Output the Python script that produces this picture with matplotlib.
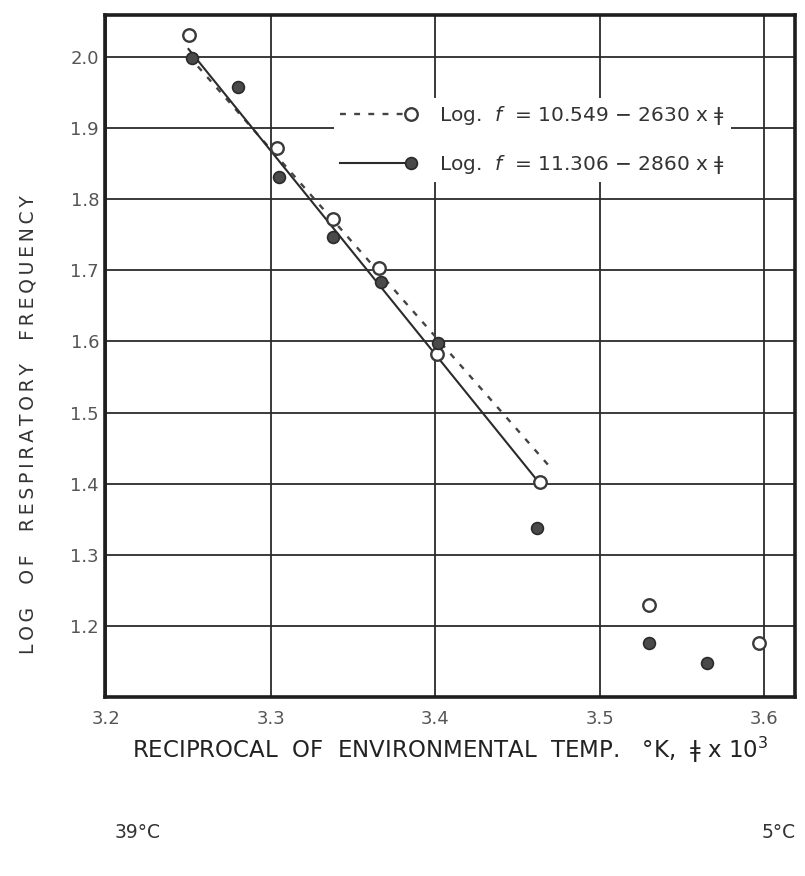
import matplotlib
matplotlib.use("Agg")
import matplotlib.pyplot as plt
import numpy as np
from matplotlib.lines import Line2D
from matplotlib.legend_handler import HandlerLine2D

# ---- data ----
open_x = [3.250, 3.304, 3.338, 3.366, 3.401, 3.464, 3.530, 3.597]
open_y = [2.031, 1.872, 1.772, 1.703, 1.582, 1.403, 1.230, 1.176]
fill_x = [3.252, 3.280, 3.305, 3.338, 3.367, 3.402, 3.462, 3.530, 3.565]
fill_y = [1.998, 1.958, 1.831, 1.747, 1.683, 1.598, 1.337, 1.176, 1.148]

# fitted lines: log f = a - b * x
dash_a, dash_b = 10.549, 2.630
solid_a, solid_b = 11.306, 2.860
dash_range = [3.250, 3.470]
solid_range = [3.250, 3.463]

xticks = [3.2, 3.3, 3.4, 3.5, 3.6]
xticklabels = ["3.2", "3.3", "3.4", "3.5", "3.6"]
yticks = [1.2, 1.3, 1.4, 1.5, 1.6, 1.7, 1.8, 1.9, 2.0]
yticklabels = ["1.2", "1.3", "1.4", "1.5", "1.6", "1.7", "1.8", "1.9", "2.0"]

legend_labels = ["Log.  $f$  = 10.549 − 2630 x ǂ", "Log.  $f$  = 11.306 − 2860 x ǂ"]
xlabel = "RECIPROCAL  OF  ENVIRONMENTAL  TEMP.   °K,  ǂ x 10$^3$"
ylabel = "LOG  OF  RESPIRATORY  FREQUENCY"
left_note, right_note = "39°C", "5°C"

plt.rcParams['font.family'] = ['DejaVu Sans']


def spaced(s):
    return "\u2009".join(s)


fig = plt.figure(figsize=(8.05, 8.76), dpi=100)
ax = fig.add_axes([0.130, 0.2043, 0.858, 0.7787])

ink = "#2b2b2b"
ax.set_xlim(3.199, 3.619)
ax.set_ylim(1.100, 2.059)
ax.set_xticks(xticks)
ax.set_xticklabels(xticklabels)
ax.set_yticks(yticks)
ax.set_yticklabels(yticklabels)
ax.grid(True, color=ink, lw=1.3)
ax.set_axisbelow(True)
ax.tick_params(length=0, labelsize=13, labelcolor="#555555")
ax.tick_params(axis="y", pad=4)
ax.tick_params(axis="x", pad=9)
for s in ax.spines.values():
    s.set_linewidth(2.6)
    s.set_color("#1e1e1e")

xd = np.array(dash_range)
xs = np.array(solid_range)
ax.plot(xd, dash_a - dash_b * xd, ls=(0, (2.5, 3.5)), color="#444444", lw=1.7, zorder=3)
ax.plot(xs, solid_a - solid_b * xs, ls="-", color=ink, lw=1.5, zorder=3)

ax.plot(open_x, open_y, 'o', ms=9, mfc="white", mec="#3a3a3a", mew=1.7, ls="none", zorder=4)
ax.plot(fill_x, fill_y, 'o', ms=8.5, mfc="#4a4a4a", mec="#2a2a2a", mew=1.2, ls="none", zorder=5)


class EndMarkerHandler(HandlerLine2D):
    def create_artists(self, legend, orig_handle, xdescent, ydescent, width,
                       height, fontsize, trans):
        ydata = np.full(2, (height - ydescent) / 2.0)
        xdata = np.array([-xdescent, -xdescent + width])
        line = Line2D(xdata, ydata)
        self.update_prop(line, orig_handle, legend)
        line.set_marker("None")
        mark = Line2D(xdata[-1:], ydata[-1:])
        self.update_prop(mark, orig_handle, legend)
        mark.set_linestyle("None")
        line.set_transform(trans)
        mark.set_transform(trans)
        return [line, mark]


h1 = Line2D([], [], ls=(0, (2.5, 3.5)), color="#444444", lw=1.7, marker='o', ms=9,
            mfc="white", mec="#3a3a3a", mew=1.7)
h2 = Line2D([], [], ls="-", color=ink, lw=1.5, marker='o', ms=8.5,
            mfc="#4a4a4a", mec="#2a2a2a", mew=1.2)
leg = ax.legend([h1, h2], legend_labels, loc="center left", bbox_to_anchor=(0.318, 0.817),
                frameon=True, facecolor="white", edgecolor="none", framealpha=1,
                handlelength=3.5, handletextpad=1.4, labelspacing=1.3, fontsize=14.5,
                borderpad=0.3,
                handler_map={h1: EndMarkerHandler(), h2: EndMarkerHandler()})
for t in leg.get_texts():
    t.set_color("#333333")

ax.set_xlabel(xlabel, fontsize=16.5, color="#222222", labelpad=5)
ax.set_ylabel(spaced(ylabel), fontsize=13.5, color="#333333")
ax.yaxis.set_label_coords(-0.097, 0.40)

fig.text(0.142, 0.050, left_note, fontsize=13.5, color="#333333", ha="left", va="center")
fig.text(0.988, 0.050, right_note, fontsize=13.5, color="#333333", ha="right", va="center")

fig.savefig("out.png", dpi=100)
